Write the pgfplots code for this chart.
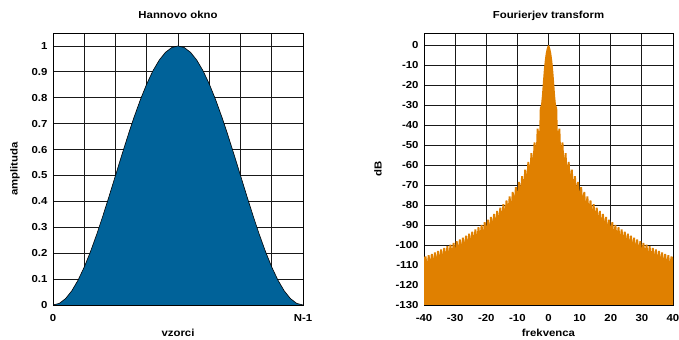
\documentclass[border=0pt]{standalone}
\usepackage{fontspec}
\setmainfont{Liberation Sans}[FakeStretch=1.12]
\usepackage{pgfplots}
\pgfplotsset{compat=1.18}
\definecolor{hblue}{RGB}{0,98,153}
\definecolor{horange}{RGB}{224,128,0}
\pgfplotsset{
  myaxis/.style={
    scale only axis,
    anchor=south west,
    height=272bp,
    font=\bfseries\fontsize{10.2}{12}\selectfont,
    /pgf/number format/assume math mode=true,
    grid=major,
    major grid style={black!90, line width=0.9bp},
    axis line style={black, line width=0.8bp},
    tick style={draw=none},
    xticklabel style={yshift=-6bp},
    yticklabel style={xshift=-2bp},
    title style={at={(axis description cs:0.5,1.032)}, anchor=base},
    xlabel style={at={(axis description cs:0.5,-0.116)}, anchor=base},
  }
}
\begin{document}
\begin{tikzpicture}
\useasboundingbox (0,0) rectangle (679bp,340bp);
\begin{axis}[myaxis,
  at={(53bp,35bp)}, width=250bp,
  xmin=0, xmax=1, ymin=0, ymax=1.05,
  xtick={0,0.125,0.25,0.375,0.5,0.625,0.75,0.875,1},
  xticklabels={0,,,,,,,,N-1},
  ytick={0,0.1,0.2,0.3,0.4,0.5,0.6,0.7,0.8,0.9,1},
  yticklabels={0,0.1,0.2,0.3,0.4,0.5,0.6,0.7,0.8,0.9,1},
  title={Hannovo okno}, xlabel={vzorci}, ylabel={amplituda},
  ylabel style={at={(axis description cs:-0.152,0.5)}, anchor=center},
]
\addplot[fill=hblue, draw=black, line width=0.6bp] coordinates {
(0,0) (0.025,0.006156) (0.05,0.02447) (0.075,0.05450) (0.1,0.09549)
(0.125,0.14645) (0.15,0.20611) (0.175,0.27300) (0.2,0.34549) (0.225,0.42178)
(0.25,0.5) (0.275,0.57822) (0.3,0.65451) (0.325,0.72700) (0.35,0.79389)
(0.375,0.85355) (0.4,0.90451) (0.425,0.94550) (0.45,0.97553) (0.475,0.99384)
(0.5,1)
(0.525,0.99384) (0.55,0.97553) (0.575,0.94550) (0.6,0.90451) (0.625,0.85355)
(0.65,0.79389) (0.675,0.72700) (0.7,0.65451) (0.725,0.57822) (0.75,0.5)
(0.775,0.42178) (0.8,0.34549) (0.825,0.27300) (0.85,0.20611) (0.875,0.14645)
(0.9,0.09549) (0.925,0.05450) (0.95,0.02447) (0.975,0.006156) (1,0)
};
\end{axis}
\begin{axis}[myaxis,
  at={(424bp,35bp)}, width=249bp,
  xmin=-40, xmax=40, ymin=-130, ymax=6,
  xtick={-40,-30,-20,-10,0,10,20,30,40},
  xticklabels={-40,-30,-20,-10,0,10,20,30,40},
  ytick={-130,-120,-110,-100,-90,-80,-70,-60,-50,-40,-30,-20,-10,0},
  yticklabels={-130,-120,-110,-100,-90,-80,-70,-60,-50,-40,-30,-20,-10,0},
  title={Fourierjev transform}, xlabel={frekvenca}, ylabel={dB},
  ylabel style={at={(axis description cs:-0.185,0.5)}, anchor=center},
]
\addplot[fill=horange, draw=none] coordinates {
(-40,-130) (-40,-106.3)
(-39.8,-105.7) (-39.2,-105.7) (-39,-108.7)
(-38.8,-105.1) (-38.2,-105.1) (-38,-108.1)
(-37.8,-104.4) (-37.2,-104.4) (-37,-107.4)
(-36.8,-103.7) (-36.2,-103.7) (-36,-106.7)
(-35.8,-102.9) (-35.2,-102.9) (-35,-105.9)
(-34.8,-102.2) (-34.2,-102.2) (-34,-105.2)
(-33.8,-101.4) (-33.2,-101.4) (-33,-104.4)
(-32.8,-100.6) (-32.2,-100.6) (-32,-103.6)
(-31.8,-99.8) (-31.2,-99.8) (-31,-102.8)
(-30.8,-99.0) (-30.2,-99.0) (-30,-102.0)
(-29.8,-98.1) (-29.2,-98.1) (-29,-101.1)
(-28.8,-97.2) (-28.2,-97.2) (-28,-100.2)
(-27.8,-96.3) (-27.2,-96.3) (-27,-99.3)
(-26.8,-95.3) (-26.2,-95.3) (-26,-98.3)
(-25.8,-94.3) (-25.2,-94.3) (-25,-97.3)
(-24.8,-93.3) (-24.2,-93.3) (-24,-96.3)
(-23.8,-92.2) (-23.2,-92.2) (-23,-95.2)
(-22.8,-91.1) (-22.2,-91.1) (-22,-94.1)
(-21.8,-89.9) (-21.2,-89.9) (-21,-92.9)
(-20.8,-88.6) (-20.2,-88.6) (-20,-91.6)
(-19.8,-87.3) (-19.2,-87.3) (-19,-90.3)
(-18.8,-85.9) (-18.2,-85.9) (-18,-88.9)
(-17.8,-84.5) (-17.2,-84.5) (-17,-87.5)
(-16.8,-83.0) (-16.2,-83.0) (-16,-86.0)
(-15.8,-81.3) (-15.2,-81.3) (-15,-84.3)
(-14.8,-79.6) (-14.2,-79.6) (-14,-82.6)
(-13.8,-77.7) (-13.2,-77.7) (-13,-80.7)
(-12.8,-75.7) (-12.2,-75.7) (-12,-78.7)
(-11.8,-73.5) (-11.2,-73.5) (-11,-76.5)
(-10.8,-71.1) (-10.2,-71.1) (-10,-74.1)
(-9.8,-68.5) (-9.2,-68.5) (-9,-71.5)
(-8.8,-65.6) (-8.2,-65.6) (-8,-68.6)
(-7.8,-62.3) (-7.2,-62.3) (-7,-65.3)
(-6.8,-58.5) (-6.2,-58.5) (-6,-61.5)
(-5.8,-54.1) (-5.2,-54.1) (-5,-57.1)
(-4.8,-48.7) (-4.2,-48.7) (-4,-51.7)
(-3.8,-41.8) (-3.2,-41.8) (-3,-44.8)
(-2.8,-31.5) (-2.4,-30) (-2.1,-25) (-1.8,-18.5) (-1.5,-12.5) (-1.2,-7.8)
(-0.9,-4.3) (-0.6,-2) (-0.3,-0.5) (0,0) (0.3,-0.5) (0.6,-2) (0.9,-4.3)
(1.2,-7.8) (1.5,-12.5) (1.8,-18.5) (2.1,-25) (2.4,-30) (2.8,-31.5)
(3,-44.8) (3.2,-41.8) (3.8,-41.8)
(4,-51.7) (4.2,-48.7) (4.8,-48.7)
(5,-57.1) (5.2,-54.1) (5.8,-54.1)
(6,-61.5) (6.2,-58.5) (6.8,-58.5)
(7,-65.3) (7.2,-62.3) (7.8,-62.3)
(8,-68.6) (8.2,-65.6) (8.8,-65.6)
(9,-71.5) (9.2,-68.5) (9.8,-68.5)
(10,-74.1) (10.2,-71.1) (10.8,-71.1)
(11,-76.5) (11.2,-73.5) (11.8,-73.5)
(12,-78.7) (12.2,-75.7) (12.8,-75.7)
(13,-80.7) (13.2,-77.7) (13.8,-77.7)
(14,-82.6) (14.2,-79.6) (14.8,-79.6)
(15,-84.3) (15.2,-81.3) (15.8,-81.3)
(16,-86.0) (16.2,-83.0) (16.8,-83.0)
(17,-87.5) (17.2,-84.5) (17.8,-84.5)
(18,-88.9) (18.2,-85.9) (18.8,-85.9)
(19,-90.3) (19.2,-87.3) (19.8,-87.3)
(20,-91.6) (20.2,-88.6) (20.8,-88.6)
(21,-92.9) (21.2,-89.9) (21.8,-89.9)
(22,-94.1) (22.2,-91.1) (22.8,-91.1)
(23,-95.2) (23.2,-92.2) (23.8,-92.2)
(24,-96.3) (24.2,-93.3) (24.8,-93.3)
(25,-97.3) (25.2,-94.3) (25.8,-94.3)
(26,-98.3) (26.2,-95.3) (26.8,-95.3)
(27,-99.3) (27.2,-96.3) (27.8,-96.3)
(28,-100.2) (28.2,-97.2) (28.8,-97.2)
(29,-101.1) (29.2,-98.1) (29.8,-98.1)
(30,-102.0) (30.2,-99.0) (30.8,-99.0)
(31,-102.8) (31.2,-99.8) (31.8,-99.8)
(32,-103.6) (32.2,-100.6) (32.8,-100.6)
(33,-104.4) (33.2,-101.4) (33.8,-101.4)
(34,-105.2) (34.2,-102.2) (34.8,-102.2)
(35,-105.9) (35.2,-102.9) (35.8,-102.9)
(36,-106.7) (36.2,-103.7) (36.8,-103.7)
(37,-107.4) (37.2,-104.4) (37.8,-104.4)
(38,-108.1) (38.2,-105.1) (38.8,-105.1)
(39,-108.7) (39.2,-105.7) (39.8,-105.7)
(40,-106.3) (40,-130)
};
\end{axis}
\end{tikzpicture}
\end{document}
